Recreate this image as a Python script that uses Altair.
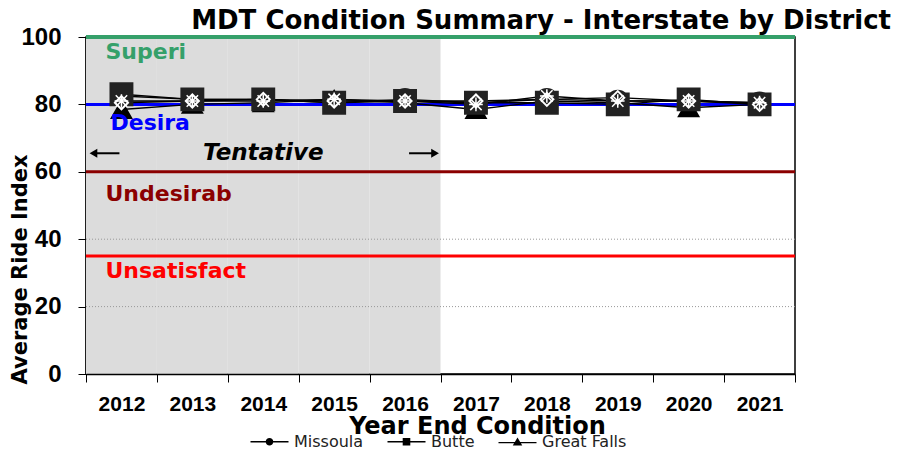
import altair as alt
import pandas as pd

years = ["2012", "2013", "2014", "2015", "2016", "2017", "2018", "2019", "2020", "2021"]
tentative_years = ["2012", "2013", "2014", "2015", "2016"]

missoula = [82.5, 81.5, 81.5, 80.5, 81.5, 80.5, 81.5, 81.0, 81.0, 80.5]
butte = [83.0, 81.5, 81.5, 80.5, 81.0, 80.5, 80.5, 80.0, 81.5, 80.0]
great_falls = [78.5, 80.0, 80.5, 81.5, 80.5, 78.5, 81.0, 80.5, 79.0, 80.0]
glendive = [80.5, 81.0, 81.5, 81.0, 81.0, 81.0, 81.5, 82.0, 81.0, 80.0]
billings = [81.0, 81.0, 81.0, 81.5, 81.0, 80.0, 82.5, 81.0, 81.0, 80.5]

districts = ["Missoula", "Butte", "Great Falls", "Glendive", "Billings"]
series = [missoula, butte, great_falls, glendive, billings]
legend_districts = ["Missoula", "Butte", "Great Falls"]

zone_values = [100, 80, 60, 35]
zone_labels = ["Superi", "Desira", "Undesirab", "Unsatisfact"]
zone_label_y = [95.5, 74.5, 53.5, 30.5]
zone_colors = ["#35a06a", "#0000ff", "#8b0000", "#ff0000"]
grid_values = [20, 40]

TITLE = "MDT Condition Summary - Interstate by District"

FONT = "Liberation Sans"
WIDE = "DejaVu Sans"

rows = []
for d, vals in zip(districts, series):
    for y, v in zip(years, vals):
        rows.append({"Year": y, "District": d, "Value": v})
df = pd.DataFrame(rows)

xscale = alt.Scale(domain=years, paddingInner=0, paddingOuter=0)
yscale = alt.Scale(domain=[0, 100], nice=False, zero=True)

x_axis = alt.Axis(title="Year End Condition", labelAngle=0, tickBand="extent",
                  labelFontSize=21, labelFontWeight="bold", labelFont=FONT,
                  labelColor="black", tickSize=8, labelPadding=11,
                  titleFontSize=24, titleFontWeight="bold", titleFont=WIDE,
                  titleColor="black", titleX=391, titleY=59,
                  titleBaseline="alphabetic", domainColor="black",
                  tickColor="black", domainWidth=1.5)
y_axis = alt.Axis(title="Average Ride Index", values=list(range(0, 101, 10)),
                  labelExpr="datum.value % 20 == 0 ? datum.label : ''",
                  grid=False, labelFontSize=24, labelFontWeight="bold",
                  labelFont=FONT, labelColor="black", tickSize=8,
                  labelPadding=17, titleFontSize=21, titleFontWeight="bold",
                  titleFont=WIDE, titleColor="black", titleX=-56, titleY=232,
                  domainColor="black", tickColor="black", domainWidth=2)

# shaded tentative area
shade = alt.Chart(pd.DataFrame({"Year": tentative_years, "lo": 0, "hi": 100})).mark_rect(
    color="#dcdcdc").encode(x=alt.X("Year:O", scale=xscale, axis=x_axis),
                            y=alt.Y("lo:Q", scale=yscale, axis=y_axis), y2="hi:Q")

grid = alt.Chart(pd.DataFrame({"g": grid_values})).mark_rule(
    color="#999999", strokeDash=[1, 2], strokeWidth=1).encode(y=alt.Y("g:Q", scale=yscale))

zone_lines = []
zone_texts = []
for v, lab, ly, c in zip(zone_values, zone_labels, zone_label_y, zone_colors):
    zone_lines.append(alt.Chart(pd.DataFrame({"v": [v]})).mark_rule(
        color=c, strokeWidth=4 if v == 100 else 3).encode(y=alt.Y("v:Q", scale=yscale)))
    zone_texts.append(alt.Chart(pd.DataFrame({"Year": ["2012"], "y": [ly], "t": [lab]})).mark_text(
        color=c, fontSize=22, fontWeight="bold", font=WIDE, align="left", baseline="middle",
        dx=-11 if lab == "Desira" else -16).encode(
        x=alt.X("Year:O", scale=xscale), y=alt.Y("y:Q", scale=yscale), text="t:N"))

# Tentative annotation
tent_df = pd.DataFrame({"Year": ["2014"], "y": [65.5], "t": ["Tentative"]})
tent_text = alt.Chart(tent_df).mark_text(
    fontSize=23, fontWeight="bold", fontStyle="italic", font=WIDE, color="black",
    baseline="middle").encode(x=alt.X("Year:O", scale=xscale), y=alt.Y("y:Q", scale=yscale), text="t:N")

arrow_left_df = pd.DataFrame({"Year": ["2012"], "y": [65.5]})
arrow_right_df = pd.DataFrame({"Year": ["2016"], "y": [65.5]})
arr_enc = dict(x=alt.X("Year:O", scale=xscale), y=alt.Y("y:Q", scale=yscale))
arrow_l_line = alt.Chart(arrow_left_df).mark_rule(color="black", strokeWidth=2, xOffset=-28, x2Offset=-2).encode(
    x2="Year:O", **arr_enc)
arrow_l_head = alt.Chart(arrow_left_df).mark_point(shape="triangle-left", filled=True, color="black",
                                                   size=80, xOffset=-28, opacity=1).encode(**arr_enc)
arrow_r_line = alt.Chart(arrow_right_df).mark_rule(color="black", strokeWidth=2, xOffset=4, x2Offset=28).encode(
    x2="Year:O", **arr_enc)
arrow_r_head = alt.Chart(arrow_right_df).mark_point(shape="triangle-right", filled=True, color="black",
                                                    size=80, xOffset=30, opacity=1).encode(**arr_enc)

lines = alt.Chart(df).mark_line(color="black", strokeWidth=1.4).encode(
    x=alt.X("Year:O", scale=xscale), y=alt.Y("Value:Q", scale=yscale), detail="District:N")

marker_styles = {
    "Missoula": dict(shape="circle", filled=True, fill="#222222", stroke="#222222", size=420),
    "Great Falls": dict(shape="triangle-up", filled=True, fill="black", stroke="black", size=380),
    "Butte": dict(shape="square", filled=True, fill="#222222", stroke="#222222", size=480),
    "Glendive": dict(shape="diamond", filled=False, stroke="white", strokeWidth=2, size=170),
    "Billings": dict(shape="M-1,-1L1,1M-1,1L1,-1M0,-1.2L0,1.2M-1.2,0L1.2,0", filled=False,
                     stroke="white", strokeWidth=1.5, size=130),
}
marker_layers = []
for d in ["Missoula", "Great Falls", "Butte", "Glendive", "Billings"]:
    marker_layers.append(alt.Chart(df[df["District"] == d]).mark_point(opacity=1, **marker_styles[d]).encode(
        x=alt.X("Year:O", scale=xscale), y=alt.Y("Value:Q", scale=yscale)))

# legend-only layer (points clipped outside the plot)
legend_df = pd.DataFrame({"Year": ["2012"] * 3, "Value": [-50] * 3, "District": legend_districts})
legend_paths = [
    "M-1,-0.035H1V0.035H-1ZM0.2,0A0.2,0.2,0,1,1,-0.2,0A0.2,0.2,0,1,1,0.2,0Z",
    "M-1,-0.035H1V0.035H-1ZM-0.2,-0.2H0.2V0.2H-0.2Z",
    "M-1,0.015H1V0.085H-1ZM0,-0.22L0.25,0.2H-0.25Z",
]
legend_layer = alt.Chart(legend_df).mark_point(filled=True, clip=True, fill="black", stroke="black",
                                               opacity=1, strokeWidth=0.5).encode(
    x=alt.X("Year:O", scale=xscale), y=alt.Y("Value:Q", scale=yscale),
    shape=alt.Shape("District:N", sort=legend_districts,
                    scale=alt.Scale(domain=legend_districts, range=legend_paths),
                    legend=alt.Legend(title=None, orient="none", direction="horizontal",
                                      legendX=164, legendY=385, symbolSize=1444,
                                      symbolFillColor="black", symbolStrokeColor="black",
                                      symbolStrokeWidth=0.5, labelFontSize=16, labelFont=WIDE,
                                      labelColor="#222222", columnPadding=22, labelOffset=5)))

title_df = pd.DataFrame({"t": [TITLE]})
title_text = alt.Chart(title_df).mark_text(
    fontSize=26, fontWeight="bold", font=WIDE, color="black", align="right",
    baseline="alphabetic").encode(text="t:N", x=alt.value(805), y=alt.value(-8))

chart = alt.layer(
    shade, grid, *zone_lines, lines, *marker_layers, *zone_texts, tent_text,
    arrow_l_line, arrow_l_head, arrow_r_line, arrow_r_head, legend_layer, title_text
).resolve_scale(shape="independent").properties(
    width=709, height=337,
    autosize=alt.AutoSizeParams(type="none"),
    padding={"left": 78, "top": 29, "right": 96, "bottom": 75},
).configure_view(stroke="black", strokeWidth=1.5)

chart.save("out.html", embed_options={"renderer": "svg", "actions": False})
